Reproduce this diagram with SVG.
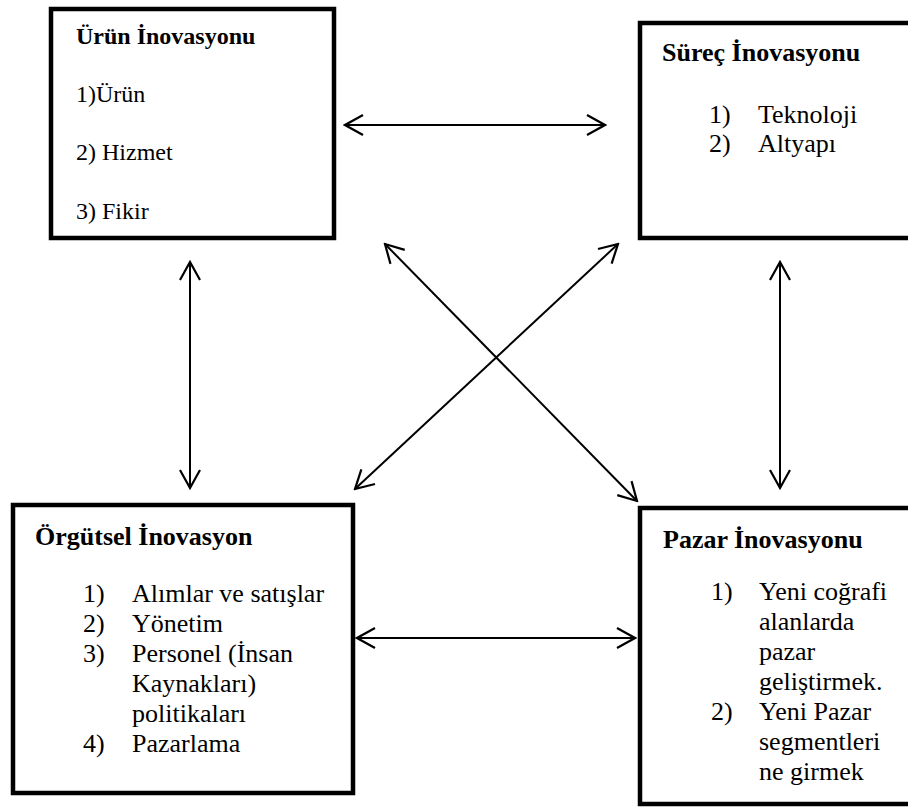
<svg xmlns="http://www.w3.org/2000/svg" width="908" height="810" viewBox="0 0 908 810">
<style>
.box{fill:#fff;stroke:#000;stroke-width:4.5}
.t{fill:#000}
.b{font-weight:bold}
.c{stroke:#000;stroke-width:2;fill:none}
</style>
<defs>
<marker id="ah" markerUnits="userSpaceOnUse" markerWidth="22" markerHeight="24" viewBox="-20 -12 22 24" refX="0" refY="0" orient="auto-start-reverse">
<path d="M-18,-10 L0,0 L-18,10" fill="none" stroke="#000" stroke-width="2.2"/>
</marker>
</defs>
<rect width="908" height="810" fill="#fff"/>
<g id="connectors">
<line class="c" x1="345" y1="125" x2="605" y2="125" marker-start="url(#ah)" marker-end="url(#ah)"/>
<line class="c" x1="190" y1="262" x2="190" y2="488" marker-start="url(#ah)" marker-end="url(#ah)"/>
<line class="c" x1="780" y1="262" x2="780" y2="488" marker-start="url(#ah)" marker-end="url(#ah)"/>
<line class="c" x1="357" y1="638" x2="635" y2="638" marker-start="url(#ah)" marker-end="url(#ah)"/>
<line class="c" x1="385" y1="244" x2="637" y2="501" marker-start="url(#ah)" marker-end="url(#ah)"/>
<line class="c" x1="618" y1="244" x2="355" y2="489" marker-start="url(#ah)" marker-end="url(#ah)"/>
</g>
<g font-family="Liberation Serif, Times New Roman, serif">
<g id="urun">
<rect class="box" x="51" y="9" width="283" height="229"/>
<text class="t b" x="76" y="44" font-size="24">Ürün İnovasyonu</text>
<text class="t" x="76" y="102" font-size="24">1)Ürün</text>
<text class="t" x="76" y="160" font-size="24">2) Hizmet</text>
<text class="t" x="76" y="219" font-size="24">3) Fikir</text>
</g>
<g id="surec">
<rect class="box" x="640" y="23" width="275" height="215"/>
<text class="t b" x="662" y="61" font-size="26">Süreç İnovasyonu</text>
<text class="t" font-size="26"><tspan x="709" y="123">1)</tspan><tspan x="758" y="123">Teknoloji</tspan></text>
<text class="t" font-size="26"><tspan x="709" y="152">2)</tspan><tspan x="758" y="152">Altyapı</tspan></text>
</g>
<g id="orgutsel">
<rect class="box" x="13" y="505" width="340" height="288"/>
<text class="t b" x="35" y="545" font-size="26">Örgütsel İnovasyon</text>
<text class="t" font-size="26">
<tspan x="83" y="602">1)</tspan><tspan x="132" y="602">Alımlar ve satışlar</tspan>
<tspan x="83" y="632">2)</tspan><tspan x="132" y="632">Yönetim</tspan>
<tspan x="83" y="662">3)</tspan><tspan x="132" y="662">Personel (İnsan</tspan>
<tspan x="132" y="692">Kaynakları)</tspan>
<tspan x="132" y="722">politikaları</tspan>
<tspan x="83" y="752">4)</tspan><tspan x="132" y="752">Pazarlama</tspan>
</text>
</g>
<g id="pazar">
<rect class="box" x="640" y="508" width="275" height="296"/>
<text class="t b" x="663" y="548" font-size="26">Pazar İnovasyonu</text>
<text class="t" font-size="26">
<tspan x="711" y="600">1)</tspan><tspan x="759" y="600">Yeni coğrafi</tspan>
<tspan x="759" y="630">alanlarda</tspan>
<tspan x="759" y="660">pazar</tspan>
<tspan x="759" y="690">geliştirmek.</tspan>
<tspan x="711" y="720">2)</tspan><tspan x="759" y="720">Yeni Pazar</tspan>
<tspan x="759" y="750">segmentleri</tspan>
<tspan x="759" y="780">ne girmek</tspan>
</text>
</g>
</g>
</svg>
